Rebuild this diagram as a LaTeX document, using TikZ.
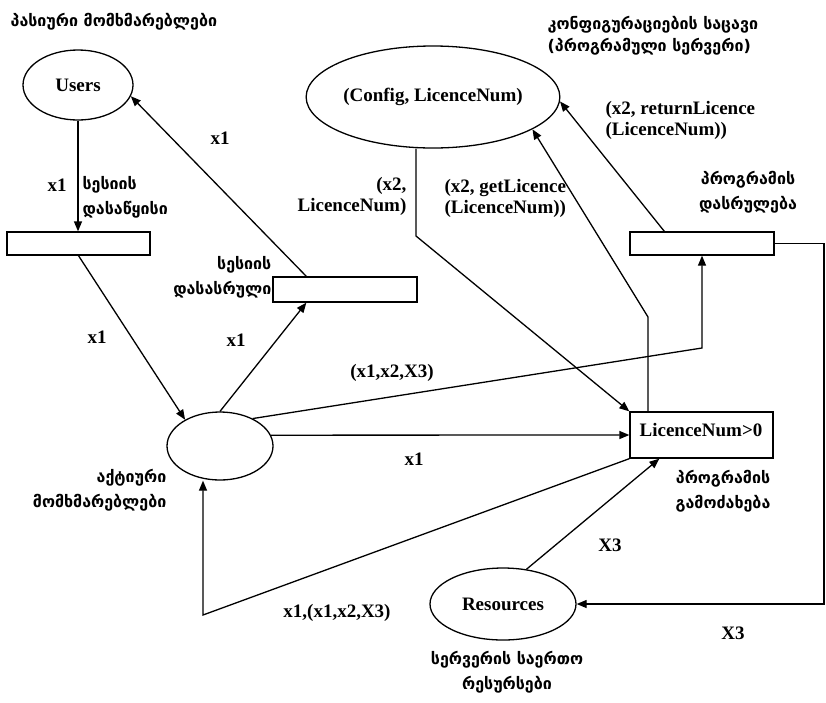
\documentclass[tikz,border=0pt]{standalone}
\usepackage{fontspec}
\setmainfont{Liberation Serif}
\newfontfamily\geofont{DejaVu Sans}
\usetikzlibrary{arrows.meta,calc,shapes.geometric}
\begin{document}
\begin{tikzpicture}[x=1pt,y=-1pt,
  line width=1.3pt,
  arr/.style={-{Triangle[length=10pt,width=8pt]}},
  ell/.style={draw, ellipse, inner sep=0pt},
  box/.style={draw, rectangle, inner sep=0pt},
  lat/.style={font=\fontsize{19}{21}\selectfont\bfseries, inner sep=0pt},
  geo/.style={font=\fontsize{16}{25}\selectfont\geofont\bfseries, inner sep=0pt},
]
\useasboundingbox (0,0) rectangle (826,702);

% main nodes
\node[ell, lat, minimum width=110pt, minimum height=70pt] (users) at (78,85) {Users};
\node[ell, lat, minimum width=250pt, minimum height=102pt] (config) at (433,97) {(Config, LicenceNum)};
\node[ell, minimum width=106pt, minimum height=68pt] (active) at (220,446) {};
\node[ell, lat, minimum width=146pt, minimum height=72pt] (res) at (503,604) {Resources};
\node[box, minimum width=143pt, minimum height=23pt] (b1) at (78.5,243.5) {};
\node[box, minimum width=144pt, minimum height=25pt] (b2) at (345,289.5) {};
\node[box, minimum width=144pt, minimum height=23pt] (b3) at (702,243.5) {};
\node[box, minimum width=143pt, minimum height=46pt] (b4) at (701.5,435) {};
\node[lat] (b4t) at (701,430) {LicenceNum>0};

% bend points
\coordinate (c1) at (416,236);
\coordinate (c2) at (648,317);
\coordinate (c3) at (702,348);
\coordinate (c4) at (203,615);
\coordinate (c6) at (824,604);

% connectors
\draw[arr] (users.south) -- (users.south |- b1.north);
\draw[arr] (b1.south) -- (active.143);
\draw[arr] (active.north) -- ($(b2.south west)+(34,0)$);
\draw[arr] ($(b2.north west)+(34,0)$) -- (users.-12);
\draw[arr] (config.south -| c1) -- (c1) -- (b4.north west);
\draw[arr] (c2 |- b4.north) -- (c2) -- (config.-18);
\draw[arr] ($(b3.north west)+(35,0)$) -- (config.-2);
\draw[arr] (active.40) -- (c3) -- (b3.south);
\draw[arr] (active.12.4) -- (b4.west);
\draw[arr] (b4.south west) -- (c4) -- (c4 |- active.south);
\draw[arr] (res.56) -- ($(b4.south west)+(30,0)$);
\draw[arr] (b3.east) -- (b3.east -| c6) -- (c6) -- (res.east);

% latin labels
\node[lat] (l1) at (57,185) {x1};
\node[lat] (l2) at (97,337) {x1};
\node[lat] (l3) at (236,340) {x1};
\node[lat] (l4) at (220,138) {x1};
\node[lat] (l5) at (414,459) {x1};
\node[lat] (l6) at (392,373) {(x1,x2,X3)};
\node[lat] (l7) at (337,613) {x1,(x1,x2,X3)};
\node[lat] (l8) at (610,545) {X3};
\node[lat] (l9) at (733,633) {X3};
\node[lat, align=right, anchor=east] (l10) at (407,196) {(x2,\\LicenceNum)};
\node[lat, align=left, anchor=west] (l11) at (444,198) {(x2, getLicence\\(LicenceNum))};
\node[lat, align=left, anchor=west] (l12) at (605,120) {(x2, returnLicence\\(LicenceNum))};

% georgian labels
\node[geo, anchor=west] (g1) at (10,22) {პასიური მომხმარებლები};
\node[geo, align=left, anchor=west] (g2) at (82,197) {სესიის\\დასაწყისი};
\node[geo, align=right, anchor=east] (g3) at (272,277) {სესიის\\დასასრული};
\node[geo, align=right, anchor=east] (g4) at (167,490) {აქტიური\\მომხმარებლები};
\node[geo, align=left, anchor=west, font=\fontsize{16}{22}\selectfont\geofont\bfseries] (g5) at (547,36) {კონფიგურაციების საცავი\\(პროგრამული სერვერი)};
\node[geo, align=center] (g6) at (748,192) {პროგრამის\\დასრულება};
\node[geo, align=center] (g7) at (723,491) {პროგრამის\\გამოძახება};
\node[geo, align=center] (g8) at (507,672) {სერვერის საერთო\\რესურსები};
\end{tikzpicture}
\end{document}
